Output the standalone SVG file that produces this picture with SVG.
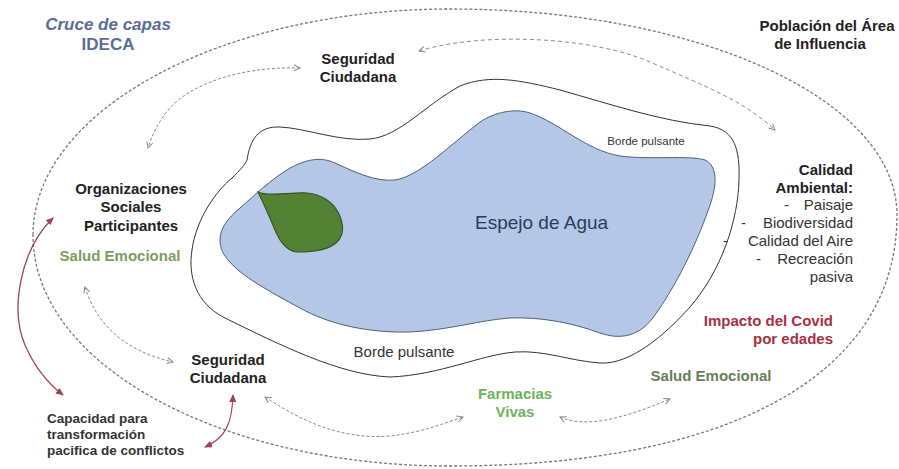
<svg xmlns="http://www.w3.org/2000/svg" width="899" height="469" viewBox="0 0 899 469">
<style>
text{font-family:"Liberation Sans",Arial,sans-serif}
.b{font-weight:bold;font-size:15px;fill:#222}
.r{font-size:15px;fill:#333}
.c{text-anchor:middle}
.e{text-anchor:end}
.dash{fill:none;stroke:#8a8a8a;stroke-width:1;stroke-dasharray:3 2}
.mar{fill:none;stroke:#9c4450;stroke-width:1.3}
</style>
<defs>
<marker id="ag" viewBox="0 0 8 8" refX="7" refY="4" markerWidth="8" markerHeight="8" markerUnits="userSpaceOnUse" orient="auto-start-reverse"><path d="M1,1 L7,4 L1,7" fill="none" stroke="#888" stroke-width="1"/></marker>
<marker id="agr" viewBox="0 0 8 8" refX="7" refY="4" markerWidth="8" markerHeight="8" markerUnits="userSpaceOnUse" orient="auto-start-reverse"><path d="M1,1 L7,4 L1,7" fill="none" stroke="#6aa86a" stroke-width="1"/></marker>
<marker id="am" viewBox="0 0 8 8" refX="7" refY="4" markerWidth="8" markerHeight="8" markerUnits="userSpaceOnUse" orient="auto-start-reverse"><path d="M0,0.5 L8,4 L0,7.5 Z" fill="#9c4450"/></marker>
</defs>
<rect width="899" height="469" fill="#fff"/>
<g id="outer">
<path d="M33,235 C33,111 221,9 450,9 C700,9 897,100 897,215 C897,380 720,466 450,466 C221,466 33,365 33,235 Z" fill="none" stroke="#777" stroke-width="1.3" stroke-dasharray="3 2"/>
</g>
<g id="borde">
<path d="M247,160 C250,140 258,126 280,127 C305,128 340,142 370,139 C400,136 425,105 460,86 C490,74 520,80 560,90 C610,104 660,121 710,126 C735,130 740,150 739,180 C738,220 722,270 690,307 C665,335 630,365 600,363 C570,361 545,350 515,352 C480,355 440,375 390,377 C340,375 280,345 225,318 C195,303 188,275 192,250 C196,220 215,192 232,178 C240,170 245,165 247,160 Z" fill="#fff" stroke="#333" stroke-width="1"/>
</g>
<g id="espejo">
<path d="M220,240 C220,228 228,218 240,208 C255,195 270,180 290,168 C305,160 320,156 335,163 C355,172 375,182 395,180 C420,176 450,145 480,122 C495,112 515,108 530,113 C560,123 585,150 620,156 C650,160 690,155 705,160 C718,166 717,185 710,205 C700,235 680,280 655,315 C640,337 620,340 600,333 C570,322 540,317 510,318 C480,320 450,330 410,332 C370,333 330,325 300,308 C270,292 240,275 230,262 C223,255 220,248 220,240 Z" fill="#b4c7e7" stroke="#4f6078" stroke-width="1"/>
<text x="475" y="229" style="font-size:19px;fill:#2d3b55">Espejo de Agua</text>
</g>
<g id="hoja">
<path d="M258,192 C268,197 290,192 307,193 C322,194 333,203 338,212 C343,222 345,234 337,242 C330,249 315,252 297,252 C287,251 280,242 275,230 C270,218 264,204 258,192 Z" fill="#548235" stroke="#375623" stroke-width="1.2"/>
</g>
<g id="connectors">
<path class="dash" d="M419,51 C480,32 590,36 650,62 C710,88 745,102 775,130" style="stroke-dasharray:4 3" marker-start="url(#ag)" marker-end="url(#ag)"/>
<path class="dash" d="M300,68 C240,66 190,85 170,108 C158,122 152,135 148,148" marker-start="url(#ag)" marker-end="url(#ag)"/>
<path class="mar" d="M53,218 C20,250 10,310 25,345 C35,368 50,385 63,395" marker-start="url(#am)" marker-end="url(#am)"/>
<path class="dash" d="M85,287 C95,320 120,350 173,362" marker-start="url(#ag)" marker-end="url(#agr)"/>
<path class="mar" style="stroke-width:1.1" d="M233,395 C232,425 225,438 205,447" marker-start="url(#am)" marker-end="url(#am)"/>
<path class="dash" d="M265,397 C300,420 340,440 390,436 C420,433 445,423 463,417" marker-start="url(#ag)" marker-end="url(#ag)"/>
<path class="dash" d="M560,417 C585,428 620,420 670,399" marker-start="url(#ag)" marker-end="url(#ag)"/>
</g>
<g id="titulo">
<text x="108" y="30" class="c" style="font-size:17px;font-weight:bold;font-style:italic;fill:#5b6e92">Cruce de capas</text>
<text x="108" y="50" class="c" style="font-size:17px;font-weight:bold;fill:#5b6e92">IDECA</text>
</g>
<g id="poblacion">
<text x="827" y="31" class="b c">Población del Área</text>
<text x="820" y="49" class="b c">de Influencia</text>
</g>
<g id="seguridad-top">
<text x="358" y="64" class="b c">Seguridad</text>
<text x="358" y="82" class="b c">Ciudadana</text>
</g>
<g id="borde-label-top">
<text x="646" y="145" class="c" style="font-size:11.5px;fill:#333">Borde pulsante</text>
</g>
<g id="organizaciones">
<text x="131" y="194" class="b c">Organizaciones</text>
<text x="131" y="212" class="b c">Sociales</text>
<text x="131" y="231" class="b c">Participantes</text>
</g>
<g id="salud-izq">
<text x="120" y="261" class="b c" style="fill:#7c9c62">Salud Emocional</text>
</g>
<g id="calidad">
<text x="853" y="175" class="b e">Calidad</text>
<text x="853" y="193" class="b e">Ambiental:</text>
<text x="784" y="210" class="r">-</text><text x="853" y="210" class="r e">Paisaje</text>
<text x="741" y="228" class="r">-</text><text x="853" y="228" class="r e">Biodiversidad</text>
<text x="723" y="246" class="r">-</text><text x="853" y="246" class="r e">Calidad del Aire</text>
<text x="756" y="264" class="r">-</text><text x="853" y="264" class="r e">Recreación</text>
<text x="853" y="282" class="r e">pasiva</text>
</g>
<g id="covid">
<text x="833" y="326" class="b e" style="fill:#a83040">Impacto del Covid</text>
<text x="833" y="344" class="b e" style="fill:#a83040">por edades</text>
</g>
<g id="borde-label-bottom">
<text x="404" y="357" class="r c">Borde pulsante</text>
</g>
<g id="seguridad-bottom">
<text x="228" y="365" class="b c">Seguridad</text>
<text x="228" y="383" class="b c">Ciudadana</text>
</g>
<g id="salud-der">
<text x="711" y="381" class="b c" style="fill:#667f56">Salud Emocional</text>
</g>
<g id="farmacias">
<text x="515" y="399" class="b c" style="fill:#6cb35c">Farmacias</text>
<text x="515" y="417" class="b c" style="fill:#6cb35c">Vivas</text>
</g>
<g id="capacidad">
<text x="47" y="423" style="font-size:13.5px;font-weight:bold;fill:#333">Capacidad para</text>
<text x="47" y="439" style="font-size:13.5px;font-weight:bold;fill:#333">transformación</text>
<text x="47" y="455" style="font-size:13.5px;font-weight:bold;fill:#333">pacifica de conflictos</text>
</g>
</svg>
